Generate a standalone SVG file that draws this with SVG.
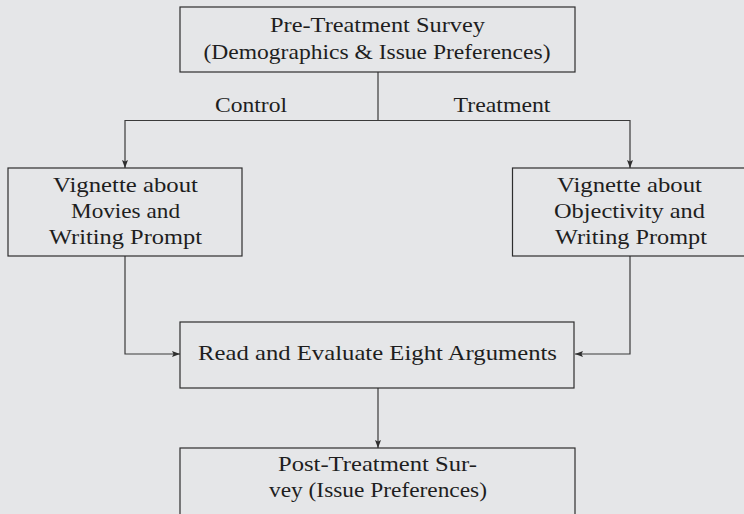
<svg xmlns="http://www.w3.org/2000/svg" width="744" height="514" viewBox="0 0 744 514">
<defs>
<style>
.box{fill:none;stroke:#2e2e2e;stroke-width:1.2}
.con{fill:none;stroke:#3a3a3a;stroke-width:1.2}
.t{font-family:'Liberation Serif','Times New Roman',serif;font-size:21px;fill:#1e1e1e;text-anchor:middle}
</style>
<marker id="ah" viewBox="0 0 8 6" refX="8" refY="3" markerWidth="8" markerHeight="6" markerUnits="userSpaceOnUse" orient="auto">
<path d="M0,0 L8,3 L0,6 L1.5,3 Z" fill="#2e2e2e"/>
</marker>
</defs>
<rect width="744" height="514" fill="#e5e6e8"/>
<g id="connectors">
<path class="con" d="M378,72 V120.5 H125 V168" marker-end="url(#ah)"/>
<path class="con" d="M378,120.5 H630 V168" marker-end="url(#ah)"/>
<path class="con" d="M125,256 V354 H180" marker-end="url(#ah)"/>
<path class="con" d="M630,256 V354 H575" marker-end="url(#ah)"/>
<path class="con" d="M378,388 V448" marker-end="url(#ah)"/>
<text class="t" x="251" y="111.5" textLength="72" lengthAdjust="spacingAndGlyphs">Control</text>
<text class="t" x="502" y="111.5" textLength="97" lengthAdjust="spacingAndGlyphs">Treatment</text>
</g>
<g id="pre">
<rect class="box" x="180" y="7" width="395" height="65"/>
<text class="t" x="377.5" y="31.5" textLength="215" lengthAdjust="spacingAndGlyphs">Pre-Treatment Survey</text>
<text class="t" x="377" y="58.5" textLength="347" lengthAdjust="spacingAndGlyphs">(Demographics &amp; Issue Preferences)</text>
</g>
<g id="control">
<rect class="box" x="8" y="168" width="234" height="88"/>
<text class="t" x="125.5" y="191.5" textLength="145" lengthAdjust="spacingAndGlyphs">Vignette about</text>
<text class="t" x="125.5" y="217.5" textLength="109" lengthAdjust="spacingAndGlyphs">Movies and</text>
<text class="t" x="125.5" y="244" textLength="153" lengthAdjust="spacingAndGlyphs">Writing Prompt</text>
</g>
<g id="treatment">
<rect class="box" x="512.5" y="168" width="235" height="88"/>
<text class="t" x="629.5" y="191.5" textLength="145" lengthAdjust="spacingAndGlyphs">Vignette about</text>
<text class="t" x="629.5" y="217.5" textLength="151" lengthAdjust="spacingAndGlyphs">Objectivity and</text>
<text class="t" x="631" y="244" textLength="152" lengthAdjust="spacingAndGlyphs">Writing Prompt</text>
</g>
<g id="read">
<rect class="box" x="180" y="322" width="394" height="66"/>
<text class="t" x="377.5" y="359.5" textLength="359" lengthAdjust="spacingAndGlyphs">Read and Evaluate Eight Arguments</text>
</g>
<g id="post">
<rect class="box" x="180" y="448" width="395" height="80"/>
<text class="t" x="377.5" y="470.5" textLength="199" lengthAdjust="spacingAndGlyphs">Post-Treatment Sur-</text>
<text class="t" x="378" y="496.5" textLength="218" lengthAdjust="spacingAndGlyphs">vey (Issue Preferences)</text>
</g>
</svg>
